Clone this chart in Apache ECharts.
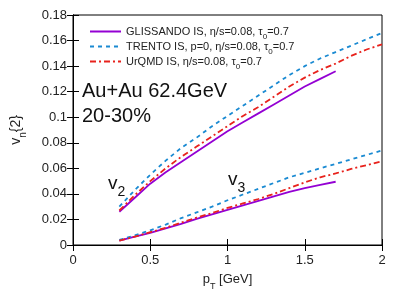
<!DOCTYPE html>
<html>
<head>
<meta charset="utf-8">
<script src="https://cdn.jsdelivr.net/npm/echarts@6/dist/echarts.min.js"></script>
<style>html,body{margin:0;padding:0;background:#fff}#c{width:407px;height:305px}</style>
</head>
<body>
<div id="c"></div>
<script>
var ptShort = [0.3,0.4,0.5,0.6,0.7,0.8,0.9,1.0,1.1,1.2,1.3,1.4,1.5,1.6,1.7];
var ptLong  = [0.3,0.4,0.5,0.6,0.7,0.8,0.9,1.0,1.1,1.2,1.3,1.4,1.5,1.6,1.7,1.8,1.9,2.0];

var glissandoV2 = [0.026,0.037,0.048,0.057,0.065,0.073,0.081,0.089,0.096,0.103,0.110,0.117,0.124,0.130,0.136];
var glissandoV3 = [0.0035,0.0065,0.0095,0.013,0.0165,0.0205,0.024,0.0275,0.031,0.0345,0.038,0.0415,0.0445,0.047,0.0495];

var trentoV2 = [0.030,0.043,0.055,0.066,0.076,0.084,0.093,0.101,0.109,0.117,0.125,0.133,0.140,0.146,0.151,0.156,0.161,0.166];
var trentoV3 = [0.004,0.0075,0.0115,0.016,0.021,0.0255,0.030,0.035,0.0395,0.044,0.0485,0.053,0.0565,0.060,0.0635,0.067,0.0705,0.074];

var urqmdV2 = [0.027,0.039,0.050,0.060,0.069,0.077,0.085,0.093,0.101,0.108,0.116,0.124,0.131,0.137,0.142,0.148,0.153,0.157];
var urqmdV3 = [0.0035,0.0065,0.010,0.0135,0.0175,0.0215,0.025,0.029,0.0325,0.036,0.040,0.0445,0.049,0.053,0.056,0.0595,0.0625,0.0655];

var xTicks = [0, 0.5, 1, 1.5, 2];
var yTicks = [0,0.02,0.04,0.06,0.08,0.1,0.12,0.14,0.16,0.18];

var legendNames = {
  'GLISSANDO': 'GLISSANDO IS, η/s=0.08, τ{sub|0}=0.7',
  'TRENTO': 'TRENTO IS, p=0, η/s=0.08, τ{sub|0}=0.7',
  'UrQMD': 'UrQMD IS, η/s=0.08, τ{sub|0}=0.7'
};

function pairs(xs, ys){ return xs.map(function(x,i){ return [x, ys[i]]; }); }

var FONT = 'Liberation Sans, Arial, sans-serif';
var cPurple = '#9400d3', cBlue = '#1a8ad2', cRed = '#e8221c';

function mkSeries(name, xs, ys, color, type){
  return {
    name: name, type: 'line', data: pairs(xs, ys), showSymbol: false, symbol: 'none',
    lineStyle: {color: color, width: 1.8, type: type}, itemStyle: {color: color},
    animation: false, z: 3
  };
}

var chart = echarts.init(document.getElementById('c'));
var axisCommon = {
  axisLine: {show: true, lineStyle: {color: '#000', width: 1}},
  axisTick: {show: true, inside: true, length: 6, lineStyle: {color: '#000'}},
  splitLine: {show: false}
};
chart.setOption({
  animation: false,
  grid: {left: 73, right: 25, top: 15, bottom: 60, show: true, borderColor: '#000', borderWidth: 1},
  legend: {
    orient: 'vertical', left: 84, top: 21, itemWidth: 31, itemHeight: 10, itemGap: 0,
    data: ['GLISSANDO','TRENTO','UrQMD'],
    itemStyle: {opacity: 0},
    formatter: function(n){ return legendNames[n]; },
    textStyle: {fontFamily: FONT, fontSize: 11, color: '#222',
      rich: {sub: {fontFamily: FONT, fontSize: 8, verticalAlign: 'bottom', padding: [0,0,-4,0], color:'#222'}}}
  },
  xAxis: [
    Object.assign({type: 'value', min: 0, max: 2, interval: 0.5, position: 'bottom',
      name: 'p{sub|T} [GeV]', nameLocation: 'middle', nameGap: 28,
      nameTextStyle: {fontFamily: FONT, fontSize: 13, color: '#222',
        rich: {sub: {fontFamily: FONT, fontSize: 9, verticalAlign: 'bottom', padding: [0,0,-5,0], color:'#222'}}},
      axisLabel: {fontFamily: FONT, fontSize: 13, color: '#222', margin: 9}}, axisCommon),
    Object.assign({type: 'value', min: 0, max: 2, interval: 0.5, position: 'top',
      axisLabel: {show: false}}, axisCommon)
  ],
  yAxis: [
    Object.assign({type: 'value', min: 0, max: 0.18, interval: 0.02, position: 'left',
      name: 'v{sub|n}{2}', nameLocation: 'middle', nameGap: 50,
      nameTextStyle: {fontFamily: FONT, fontSize: 14, color: '#222',
        rich: {sub: {fontFamily: FONT, fontSize: 10, verticalAlign: 'bottom', padding: [0,0,-5,0], color:'#222'}}},
      axisLabel: {fontFamily: FONT, fontSize: 13, color: '#222', margin: 6,
        formatter: function(v){ return String(+v.toFixed(2)); }}}, axisCommon),
    Object.assign({type: 'value', min: 0, max: 0.18, interval: 0.02, position: 'right',
      axisLabel: {show: false}}, axisCommon)
  ],
  series: [
    mkSeries('GLISSANDO', ptShort, glissandoV2, cPurple, 'solid'),
    mkSeries('TRENTO', ptLong, trentoV2, cBlue, [4,4]),
    mkSeries('UrQMD', ptLong, urqmdV2, cRed, [6,3,2,3]),
    mkSeries('GLISSANDO', ptShort, glissandoV3, cPurple, 'solid'),
    mkSeries('TRENTO', ptLong, trentoV3, cBlue, [4,4]),
    mkSeries('UrQMD', ptLong, urqmdV3, cRed, [6,3,2,3])
  ],
  graphic: [
    {type: 'text', left: 82, top: 81, style: {text: 'Au+Au 62.4GeV', fontFamily: FONT, fontSize: 20, fill: '#111'}},
    {type: 'text', left: 82, top: 106, style: {text: '20-30%', fontFamily: FONT, fontSize: 20, fill: '#111'}},
    {type: 'text', left: 108, top: 174, style: {text: 'v{sub|2}', fontFamily: FONT, fontSize: 19, fill: '#111',
      rich: {sub: {fontFamily: FONT, fontSize: 14, verticalAlign: 'bottom', padding: [0,0,-6,0], fill:'#111'}}}},
    {type: 'text', left: 228, top: 170, style: {text: 'v{sub|3}', fontFamily: FONT, fontSize: 19, fill: '#111',
      rich: {sub: {fontFamily: FONT, fontSize: 14, verticalAlign: 'bottom', padding: [0,0,-6,0], fill:'#111'}}}}
  ]
});
</script>
</body>
</html>
